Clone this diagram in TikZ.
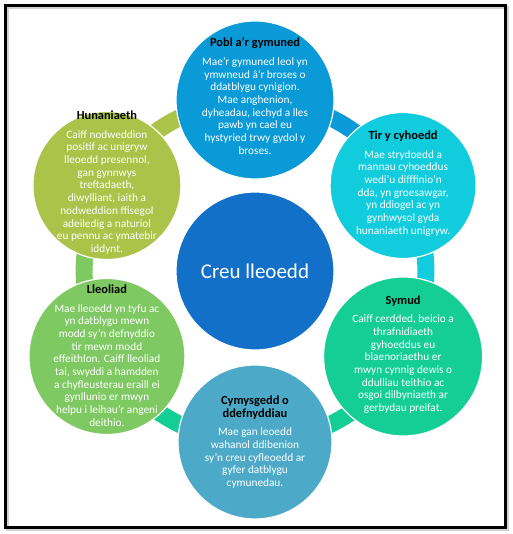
\documentclass[tikz,border=0pt]{standalone}
\usepackage{fontspec}
\setmainfont{Carlito}
\usepackage{tikz}
\usetikzlibrary{positioning,backgrounds}
\usepackage{xcolor}
\definecolor{hubblue}{RGB}{18,112,200}
\definecolor{poblblue}{RGB}{10,154,216}
\definecolor{tircyan}{RGB}{16,204,220}
\definecolor{symudgreen}{RGB}{20,206,150}
\definecolor{cymysgblue}{RGB}{76,170,200}
\definecolor{lleoliadgreen}{RGB}{126,201,98}
\definecolor{hunanolive}{RGB}{170,195,72}
\tikzset{
  hub/.style={circle, draw=white, line width=1.2pt, fill=hubblue, minimum size=158pt,
              inner sep=0pt, text=white, font=\fontsize{21}{25}\selectfont},
  petal/.style={circle, draw=white, line width=1.2pt, inner sep=0pt},
  petaltext/.style={align=center, text=white, inner sep=0pt,
                    font=\fontsize{11.3}{12.7}\selectfont},
  band/.style={line width=17pt, bend left=30, looseness=0.91},
}
\newcommand{\petalhead}[1]{{\color{black}\bfseries\fontsize{12.4}{13}\selectfont #1}}
\newcommand{\petaltitle}[1]{\petalhead{#1}\\[6pt]}

\begin{document}
\begin{tikzpicture}[x=1pt,y=1pt]
\useasboundingbox (-255,-263) rectangle (257,271);
% frame with shadow
\draw[gray!35, line width=3pt] (-247,-258) rectangle (252,263);
\draw[black, line width=3pt] (-249,-256) rectangle (250,265);

\node[hub] (hub) at (0,0) {Creu lleoedd};
\node[petal, fill=poblblue, minimum size=158pt] (pobl) at (90:171) {};
\node[petal, fill=tircyan, minimum size=146pt] (tir) at (30:171) {};
\node[petal, fill=symudgreen, minimum size=159pt] (symud) at (-30:171) {};
\node[petal, fill=cymysgblue, minimum size=154pt] (cymysg) at (-90:171) {};
\node[petal, fill=lleoliadgreen, minimum size=156pt] (lleoliad) at (-150:171) {};
\node[petal, fill=hunanolive, minimum size=148pt] (hunan) at (150:171) {};

% ring pieces behind the circles
\begin{scope}[on background layer]
\foreach \a/\b/\c in {pobl/tir/poblblue, tir/symud/tircyan, symud/cymysg/symudgreen,
                      cymysg/lleoliad/symudgreen, lleoliad/hunan/lleoliadgreen, hunan/pobl/hunanolive}
  \draw[band, \c] (\a.center) to (\b.center);
\end{scope}

\node[petaltext, yshift=4pt] (pobltext) at (pobl) {\petaltitle{Pobl a'r gymuned}
  Mae’r gymuned leol yn\\ ymwneud â'r broses o\\ ddatblygu cynigion.\\ Mae anghenion,\\
  dyheadau, iechyd a lles\\ pawb yn cael eu\\ hystyried trwy gydol y\\ broses.};
\node[petaltext, yshift=2pt] (tirtext) at (tir) {\petaltitle{Tir y cyhoedd}
  Mae strydoedd a\\ mannau cyhoeddus\\ wedi'u difffinio'n\\ dda, yn groesawgar,\\
  yn ddiogel ac yn\\ gynhwysol gyda\\ hunaniaeth unigryw.};
\node[petaltext, yshift=2pt] (symudtext) at (symud) {\petaltitle{Symud}
  Caiff cerdded, beicio a\\ thrafnidiaeth\\ gyhoeddus eu\\ blaenoriaethu er\\
  mwyn cynnig dewis o\\ ddulliau teithio ac\\ osgoi dilbyniaeth ar\\ gerbydau preifat.};
\node[petaltext] (cymysgtext) at (cymysg) {\petalhead{Cymysgedd o}\\ \petaltitle{ddefnyddiau}
  Mae gan leoedd\\ wahanol ddibenion\\ sy'n creu cyfleoedd ar\\ gyfer datblygu\\ cymunedau.};
\node[petaltext, yshift=1pt] (lleoliadtext) at (lleoliad) {\petaltitle{Lleoliad}
  Mae lleoedd yn tyfu ac\\ yn datblygu mewn\\ modd sy'n defnyddio\\ tir mewn modd\\
  effeithlon. Caiff lleoliad\\ tai, swyddi a hamdden\\ a chyfleusterau eraill ei\\
  gynllunio er mwyn\\ helpu i leihau'r angeni\\ deithio.};
\node[petaltext, yshift=3pt] (hunantext) at (hunan) {\petaltitle{Hunaniaeth}
  Caiff nodweddion\\ positif ac unigryw\\ lleoedd presennol,\\ gan gynnwys\\ treftadaeth,\\
  diwylliant, iaith a\\ nodweddion ffisegol\\ adeiledig a naturiol\\ eu pennu ac ymatebir\\ iddynt.};
\end{tikzpicture}
\end{document}
